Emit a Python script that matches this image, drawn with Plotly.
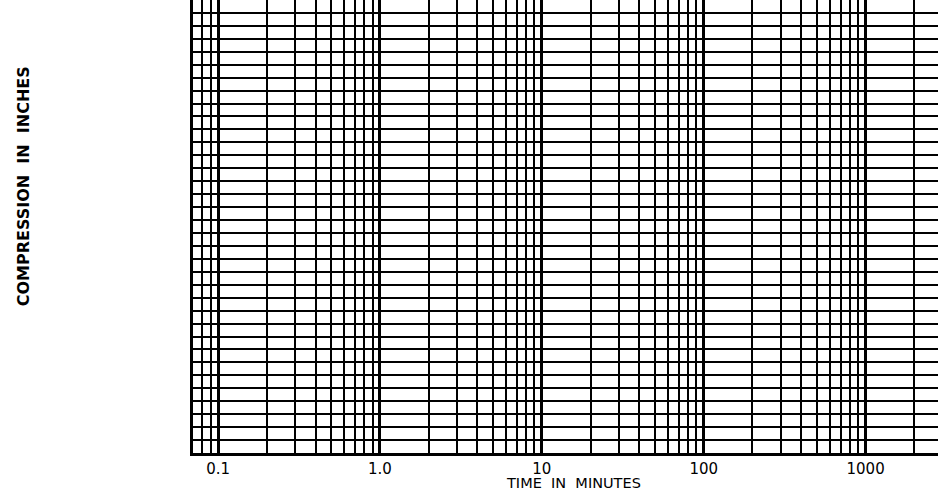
import math
import plotly.graph_objects as go

# Axis definitions (blank semi-log graph paper)
x_range_values = [0.07, 2800]          # time in minutes shown on the log axis
major_tick_values = [0.1, 1, 10, 100, 1000]
major_tick_labels = ["0.1", "1.0", "10", "100", "1000"]
minor_multipliers = [2, 3, 4, 5, 6, 7, 8, 9]
minor_decades = [0.01, 0.1, 1, 10, 100, 1000]
y_range_values = [0, 35]                # compression divisions (unlabelled)
y_step = 1

x_title = "TIME\u00a0 IN\u00a0 MINUTES"
y_title = "COMPRESSION\u00a0 IN\u00a0 INCHES"

minor_tick_values = [m * d for d in minor_decades for m in minor_multipliers
                     if x_range_values[0] < m * d < x_range_values[1]]

fig = go.Figure()
fig.add_trace(go.Scatter(x=[], y=[], mode="lines", showlegend=False))

fig.update_layout(
    width=938, height=490,
    margin=dict(l=193, r=0, t=0, b=37),
    paper_bgcolor="white", plot_bgcolor="white",
    showlegend=False,
    font=dict(family="DejaVu Sans", color="black"),
)

fig.update_xaxes(
    type="log",
    range=[math.log10(x_range_values[0]), math.log10(x_range_values[1])],
    tickmode="array", tickvals=major_tick_values, ticktext=major_tick_labels,
    showgrid=True, gridcolor="black", gridwidth=3,
    showline=True, linecolor="black", linewidth=3,
    ticks="", ticklabelstandoff=0,
    tickfont=dict(family="DejaVu Sans", size=15, color="black"),
    minor=dict(tickmode="array", tickvals=minor_tick_values,
               showgrid=True, gridcolor="black", gridwidth=2, ticks=""),
    zeroline=False,
)

fig.update_yaxes(
    range=y_range_values, dtick=y_step, tick0=0,
    showgrid=True, gridcolor="black", gridwidth=2,
    showline=True, linecolor="black", linewidth=3,
    showticklabels=False, ticks="", zeroline=False,
)

fig.add_annotation(
    text=x_title, xref="paper", yref="paper", x=0.511, y=-0.067,
    xanchor="center", yanchor="middle", showarrow=False,
    font=dict(family="DejaVu Sans", size=14.5, color="black"),
)
fig.add_annotation(
    text=y_title, xref="paper", yref="paper", x=-0.228, y=0.589,
    xanchor="center", yanchor="middle", textangle=-90, showarrow=False,
    font=dict(family="DejaVu Sans", size=16, color="black", weight="bold"),
)

fig.write_html(
    "out.html",
    config={"displayModeBar": False},
    post_script="document.body.style.margin='0';document.body.style.overflow='hidden';",
)
